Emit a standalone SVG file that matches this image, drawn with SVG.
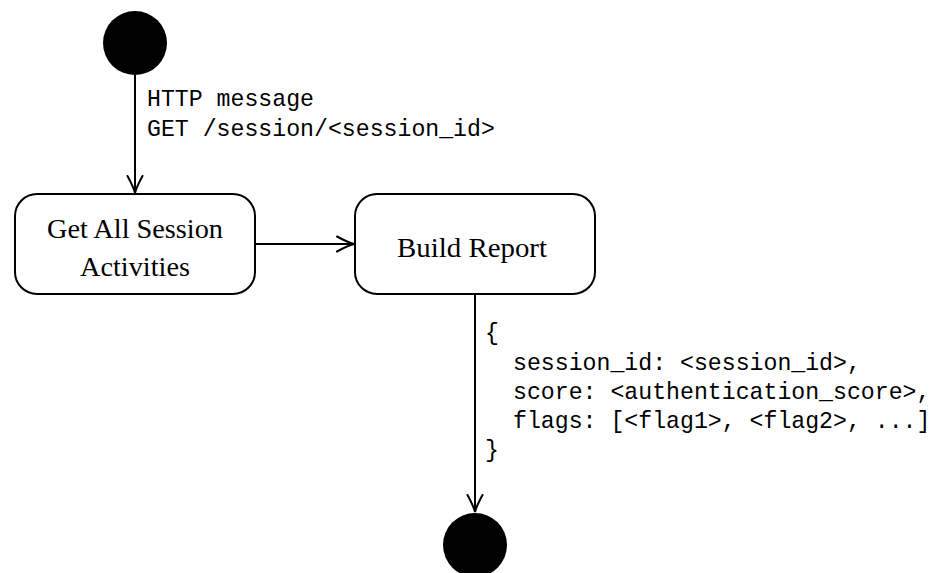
<svg xmlns="http://www.w3.org/2000/svg" width="940" height="573" viewBox="0 0 940 573">
  <style>
    .state { fill: #ffffff; stroke: #000000; stroke-width: 2; }
    .pseudo { fill: #000000; stroke: none; }
    .label { font-family: "Liberation Serif", "DejaVu Serif", serif; font-size: 26.5px; fill: #000000; text-anchor: middle; }
    .code { font-family: "Liberation Mono", "DejaVu Sans Mono", monospace; font-size: 23.2px; fill: #000000; }
    .edge { stroke: #000000; stroke-width: 2; fill: none; }
  </style>
  <defs>
    <marker id="arrow" viewBox="-19 -9 21 18" markerWidth="21" markerHeight="18" refX="0" refY="0" markerUnits="userSpaceOnUse" orient="auto">
      <path d="M-17,-7.5 Q-6,-1.5 0,0 Q-6,1.5 -17,7.5" fill="none" stroke="#000000" stroke-width="2" stroke-linecap="round"/>
    </marker>
  </defs>

  <rect width="940" height="573" fill="#ffffff"/>

  <!-- transitions -->
  <g id="connectors">
    <line class="edge" x1="135" y1="74" x2="135" y2="193" marker-end="url(#arrow)"/>
    <line class="edge" x1="255" y1="244" x2="354" y2="244" marker-end="url(#arrow)"/>
    <line class="edge" x1="475" y1="294" x2="475" y2="512" marker-end="url(#arrow)"/>
    <text class="code" x="147" y="106">HTTP message</text>
    <text class="code" x="147" y="136">GET /session/&lt;session_id&gt;</text>
    <text class="code" x="485" y="340">{</text>
    <text class="code" x="513" y="370">session_id: &lt;session_id&gt;,</text>
    <text class="code" x="513" y="399">score: &lt;authentication_score&gt;,</text>
    <text class="code" x="513" y="428">flags: [&lt;flag1&gt;, &lt;flag2&gt;, ...]</text>
    <text class="code" x="485" y="457">}</text>
  </g>

  <!-- initial state -->
  <g id="start">
    <circle class="pseudo" cx="135" cy="43" r="32"/>
  </g>

  <!-- activity: fetch session activities -->
  <g id="get-activities">
    <rect class="state" x="15" y="194" width="240" height="100" rx="22" ry="22"/>
    <text class="label" x="135" y="238" textLength="176" lengthAdjust="spacingAndGlyphs">Get All Session</text>
    <text class="label" x="135" y="276" textLength="110" lengthAdjust="spacingAndGlyphs">Activities</text>
  </g>

  <!-- activity: build report -->
  <g id="build-report">
    <rect class="state" x="355" y="194" width="240" height="100" rx="22" ry="22"/>
    <text class="label" x="472" y="257" textLength="150" lengthAdjust="spacingAndGlyphs">Build Report</text>
  </g>

  <!-- final state -->
  <g id="end">
    <circle class="pseudo" cx="475" cy="545" r="32"/>
  </g>
</svg>
